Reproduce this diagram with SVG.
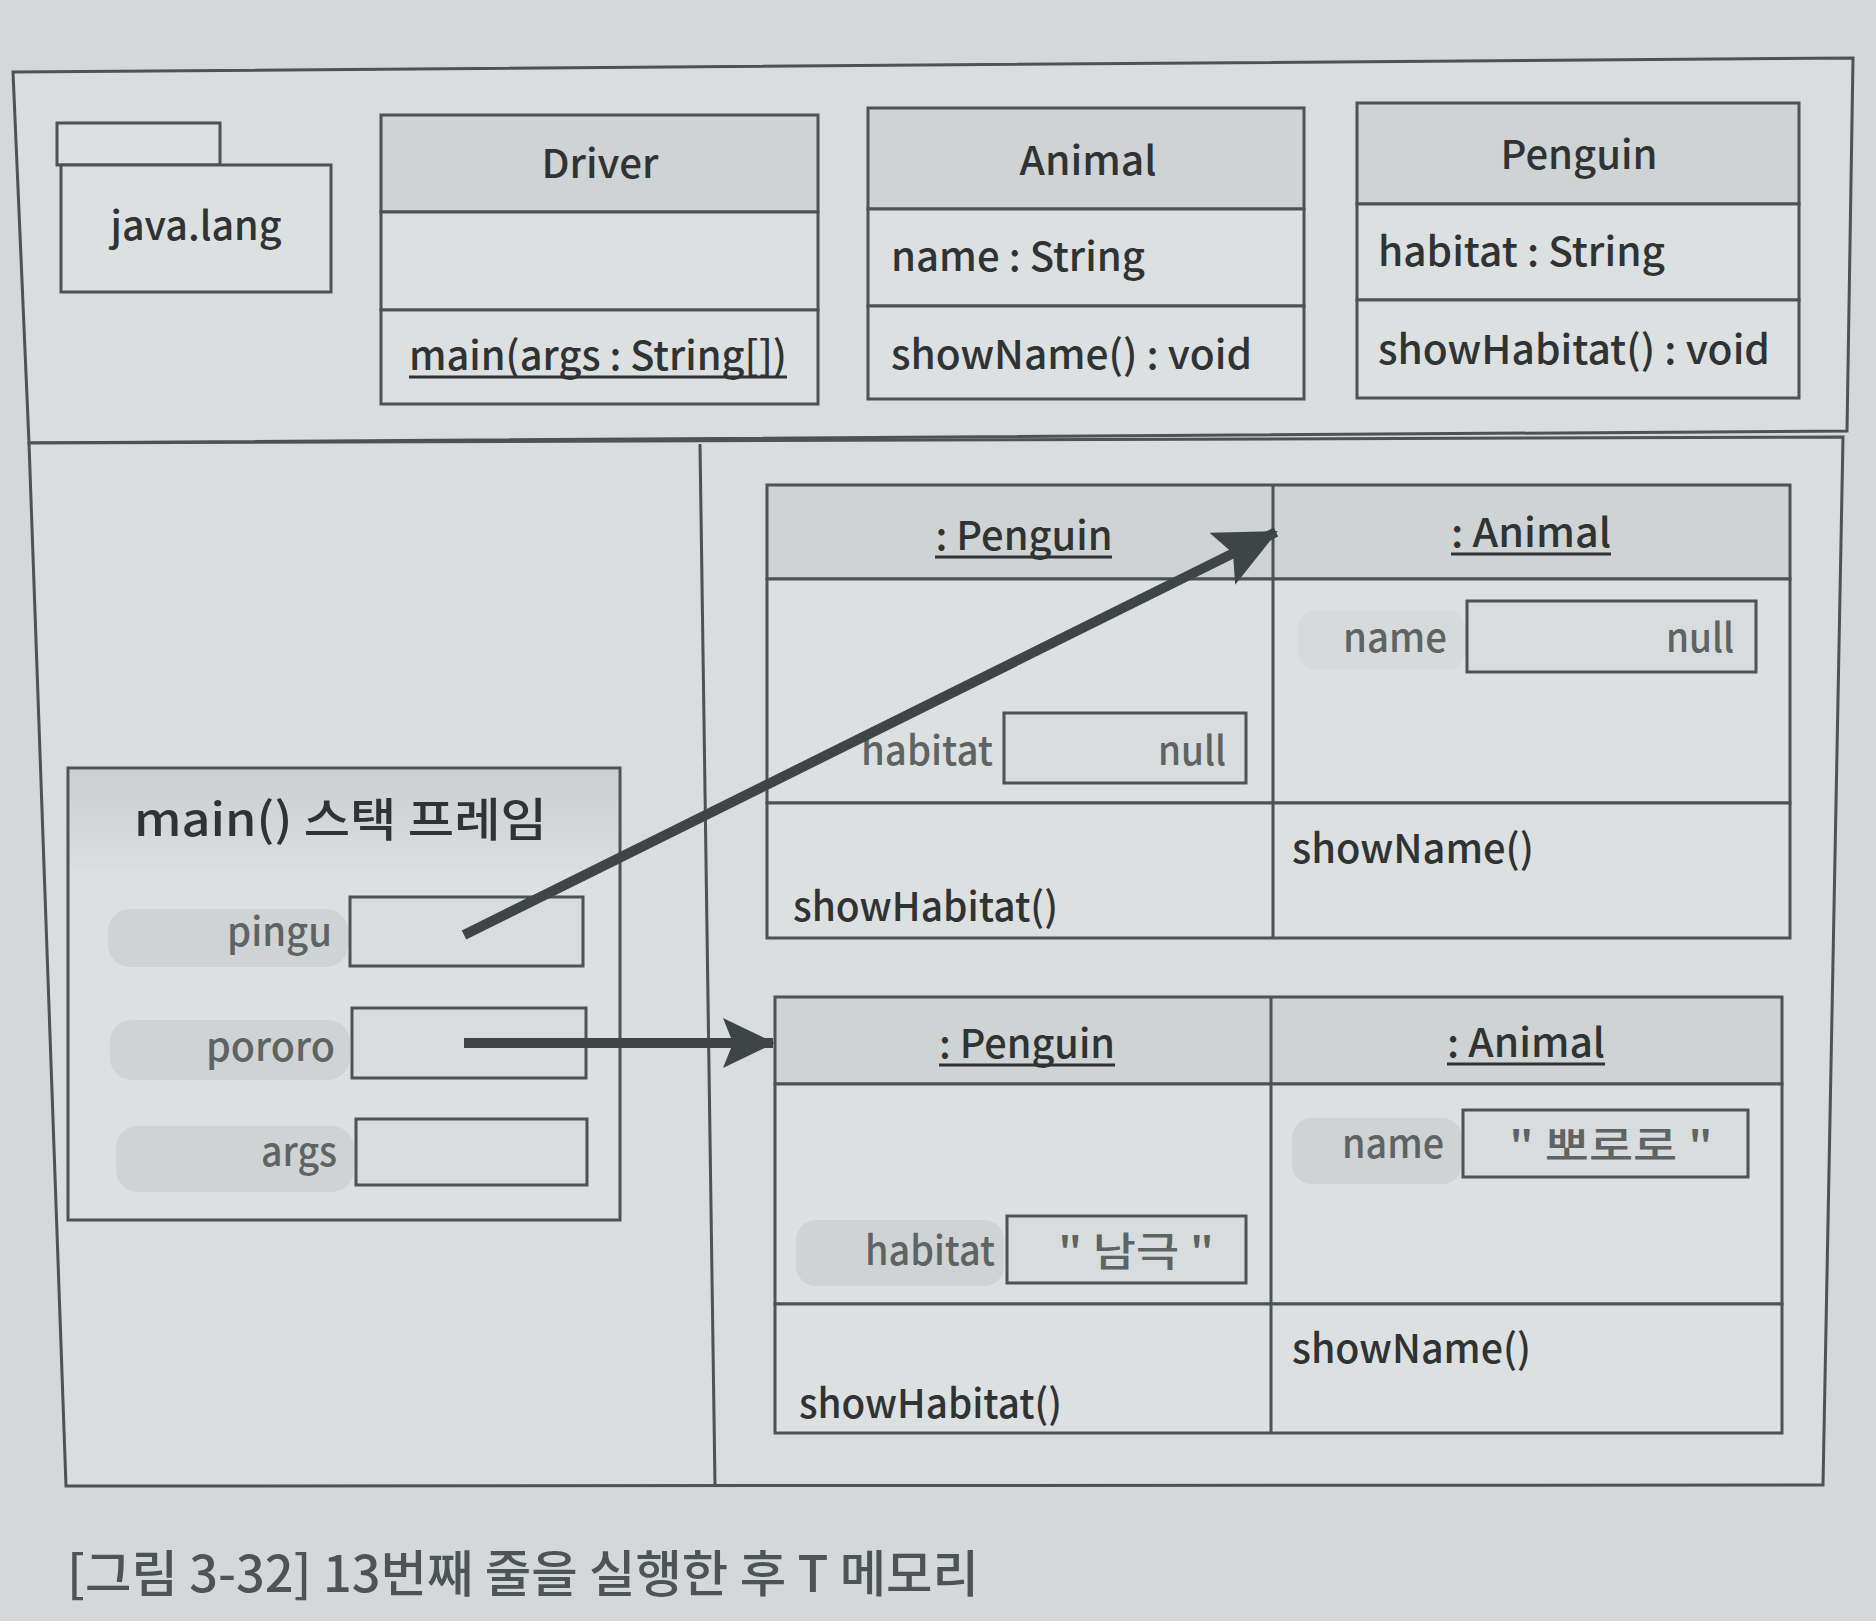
<svg xmlns="http://www.w3.org/2000/svg" width="1876" height="1621" viewBox="0 0 1876 1621">
<defs>
<style>
.frame{fill:#d9dddd;stroke:#4d5252;stroke-width:3}
.box{fill:#dce0e0;stroke:#4d5252;stroke-width:3}
.hdr{fill:#cfd3d3;stroke:#4d5252;stroke-width:3}
.ln{stroke:#4d5252;stroke-width:3;fill:none}
.val{fill:#d8dcdc;stroke:#4d5252;stroke-width:3}
.t{font-family:"Noto Sans CJK KR","Noto Sans",sans-serif;fill:#2f3333;font-size:40px;font-weight:500}
.lbl{font-family:"Noto Sans CJK KR","Noto Sans",sans-serif;fill:#5e6363;font-size:40px;font-weight:500}
.band{fill:#c9cdcd;opacity:0.7}
.ul{stroke:#2f3333;stroke-width:3}
.conn{stroke:#3f4444;stroke-width:10;fill:none}
</style>
<marker id="ah" markerUnits="userSpaceOnUse" markerWidth="60" markerHeight="60" refX="50" refY="25" orient="auto">
<path d="M0,0 L52,25 L0,50 L10,25 Z" fill="#3f4444"/>
</marker>
<marker id="ah2" markerUnits="userSpaceOnUse" markerWidth="70" markerHeight="70" refX="60" refY="29" orient="auto">
<path d="M0,0 L62,29 L0,58 L12,29 Z" fill="#3f4444"/>
</marker>
<linearGradient id="hg" x1="0" y1="0" x2="0" y2="1">
<stop offset="0" stop-color="#cbcfcf"/>
<stop offset="1" stop-color="#d9dddd"/>
</linearGradient>
</defs>
<rect width="1876" height="1621" fill="#d4d8d8"/>

<g id="upper-section">
<polygon class="frame" points="13,72 1853,58 1847,431 29,443"/>
</g>
<g id="lower-section">
<polygon class="frame" points="29,443 1843,437 1823,1485 66,1486"/>
<line class="ln" x1="700" y1="444" x2="715" y2="1485"/>
</g>

<g id="java-lang">
<rect class="box" x="57" y="123" width="163" height="42"/>
<rect class="box" x="61" y="165" width="270" height="127"/>
<text class="t" x="196" y="240" text-anchor="middle" textLength="171" lengthAdjust="spacingAndGlyphs">java.lang</text>
</g>

<g id="Driver">
<rect class="hdr" x="381" y="115" width="437" height="97"/>
<rect class="box" x="381" y="212" width="437" height="98"/>
<rect class="box" x="381" y="310" width="437" height="94"/>
<text class="t" x="600" y="178" text-anchor="middle" textLength="117" lengthAdjust="spacingAndGlyphs">Driver</text>
<text class="t" x="409" y="370" textLength="378" lengthAdjust="spacingAndGlyphs">main(args : String[])</text>
<line class="ul" x1="409" y1="377" x2="787" y2="377"/>
</g>

<g id="Animal">
<rect class="hdr" x="868" y="108" width="436" height="101"/>
<rect class="box" x="868" y="209" width="436" height="97"/>
<rect class="box" x="868" y="306" width="436" height="93"/>
<text class="t" x="1088" y="175" text-anchor="middle" textLength="137" lengthAdjust="spacingAndGlyphs">Animal</text>
<text class="t" x="891" y="271" textLength="254" lengthAdjust="spacingAndGlyphs">name : String</text>
<text class="t" x="891" y="369" textLength="361" lengthAdjust="spacingAndGlyphs">showName() : void</text>
</g>

<g id="Penguin">
<rect class="hdr" x="1357" y="103" width="442" height="101"/>
<rect class="box" x="1357" y="204" width="442" height="96"/>
<rect class="box" x="1357" y="300" width="442" height="98"/>
<text class="t" x="1579" y="169" text-anchor="middle" textLength="157" lengthAdjust="spacingAndGlyphs">Penguin</text>
<text class="t" x="1378" y="266" textLength="287" lengthAdjust="spacingAndGlyphs">habitat : String</text>
<text class="t" x="1378" y="364" textLength="392" lengthAdjust="spacingAndGlyphs">showHabitat() : void</text>
</g>

<g id="main-stack-frame">
<rect class="box" x="68" y="768" width="552" height="452"/>
<rect x="70" y="770" width="548" height="98" fill="url(#hg)"/>
<text class="t" x="134" y="836" textLength="413" lengthAdjust="spacingAndGlyphs" style="font-size:46px">main() 스택 프레임</text>
<rect class="band" x="108" y="909" width="240" height="58" rx="22"/>
<rect class="band" x="110" y="1020" width="240" height="60" rx="22"/>
<rect class="band" x="116" y="1126" width="238" height="66" rx="22"/>
<text class="lbl" x="332" y="946" text-anchor="end" textLength="105" lengthAdjust="spacingAndGlyphs">pingu</text>
<rect class="val" x="350" y="897" width="233" height="69"/>
<text class="lbl" x="335" y="1061" text-anchor="end" textLength="129" lengthAdjust="spacingAndGlyphs">pororo</text>
<rect class="val" x="352" y="1008" width="234" height="70"/>
<text class="lbl" x="337" y="1166" text-anchor="end" textLength="76" lengthAdjust="spacingAndGlyphs">args</text>
<rect class="val" x="356" y="1119" width="231" height="66"/>
</g>

<g id="pingu-object">
<rect class="hdr" x="767" y="485" width="1023" height="94"/>
<rect class="box" x="767" y="579" width="1023" height="224"/>
<rect class="box" x="767" y="803" width="1023" height="135"/>
<line class="ln" x1="1273" y1="485" x2="1273" y2="938"/>
<text class="t" x="1024" y="550" text-anchor="middle" textLength="177" lengthAdjust="spacingAndGlyphs">: Penguin</text>
<line class="ul" x1="935" y1="557" x2="1112" y2="557"/>
<text class="t" x="1531" y="547" text-anchor="middle" textLength="160" lengthAdjust="spacingAndGlyphs">: Animal</text>
<line class="ul" x1="1451" y1="554" x2="1611" y2="554"/>
<rect class="band" x="1298" y="610" width="168" height="60" rx="20" style="opacity:0.3"/>
<text class="lbl" x="1447" y="652" text-anchor="end" textLength="104" lengthAdjust="spacingAndGlyphs">name</text>
<rect class="val" x="1467" y="601" width="289" height="71"/>
<text class="lbl" x="1734" y="652" text-anchor="end" textLength="68" lengthAdjust="spacingAndGlyphs">null</text>
<text class="lbl" x="993" y="765" text-anchor="end" textLength="132" lengthAdjust="spacingAndGlyphs">habitat</text>
<rect class="val" x="1004" y="713" width="242" height="70"/>
<text class="lbl" x="1226" y="765" text-anchor="end" textLength="68" lengthAdjust="spacingAndGlyphs">null</text>
<text class="t" x="793" y="921" textLength="265" lengthAdjust="spacingAndGlyphs">showHabitat()</text>
<text class="t" x="1292" y="863" textLength="242" lengthAdjust="spacingAndGlyphs">showName()</text>
</g>

<g id="pororo-object">
<rect class="hdr" x="775" y="997" width="1007" height="87"/>
<rect class="box" x="775" y="1084" width="1007" height="220"/>
<rect class="box" x="775" y="1304" width="1007" height="129"/>
<line class="ln" x1="1271" y1="997" x2="1271" y2="1433"/>
<text class="t" x="1027" y="1058" text-anchor="middle" textLength="176" lengthAdjust="spacingAndGlyphs">: Penguin</text>
<line class="ul" x1="939" y1="1065" x2="1115" y2="1065"/>
<text class="t" x="1526" y="1057" text-anchor="middle" textLength="158" lengthAdjust="spacingAndGlyphs">: Animal</text>
<line class="ul" x1="1447" y1="1064" x2="1605" y2="1064"/>
<rect class="band" x="1292" y="1118" width="170" height="66" rx="20"/>
<text class="lbl" x="1444" y="1158" text-anchor="end" textLength="102" lengthAdjust="spacingAndGlyphs">name</text>
<rect class="val" x="1463" y="1110" width="285" height="67"/>
<text class="lbl" x="1611" y="1160" text-anchor="middle" textLength="204" lengthAdjust="spacingAndGlyphs">" 뽀로로 "</text>
<rect class="band" x="796" y="1220" width="208" height="66" rx="20"/>
<text class="lbl" x="995" y="1265" text-anchor="end" textLength="130" lengthAdjust="spacingAndGlyphs">habitat</text>
<rect class="val" x="1007" y="1216" width="239" height="67"/>
<text class="lbl" x="1136" y="1266" text-anchor="middle" textLength="156" lengthAdjust="spacingAndGlyphs">" 남극 "</text>
<text class="t" x="799" y="1418" textLength="263" lengthAdjust="spacingAndGlyphs">showHabitat()</text>
<text class="t" x="1292" y="1363" textLength="239" lengthAdjust="spacingAndGlyphs">showName()</text>
</g>

<g id="connectors">
<line class="conn" x1="464" y1="935" x2="1276" y2="532" marker-end="url(#ah2)"/>
<line class="conn" x1="464" y1="1043" x2="773" y2="1043" marker-end="url(#ah)"/>
</g>

<text class="lbl" x="67" y="1592" textLength="912" lengthAdjust="spacingAndGlyphs" style="font-size:50px;fill:#4e5353">[그림 3-32] 13번째 줄을 실행한 후 T 메모리</text>
</svg>
